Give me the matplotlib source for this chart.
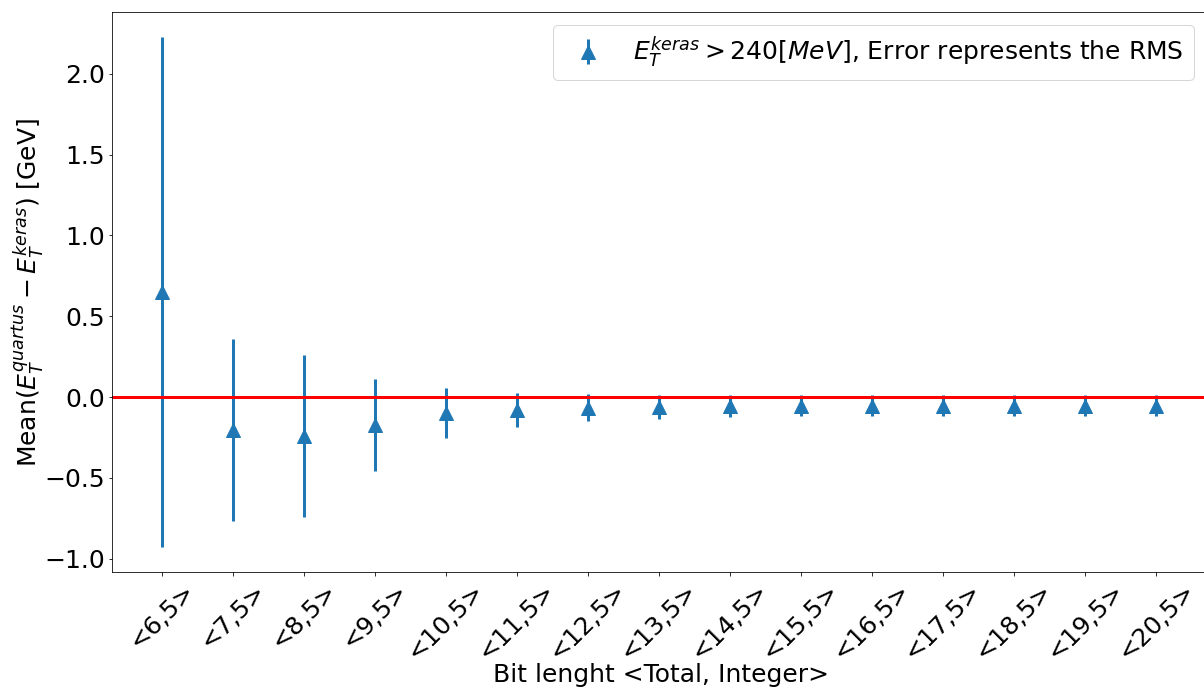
import matplotlib
matplotlib.use("Agg")
import matplotlib.pyplot as plt
import numpy as np

categories = ["<6,5>", "<7,5>", "<8,5>", "<9,5>", "<10,5>", "<11,5>", "<12,5>",
              "<13,5>", "<14,5>", "<15,5>", "<16,5>", "<17,5>", "<18,5>", "<19,5>", "<20,5>"]
means = [0.65, -0.205, -0.24, -0.175, -0.10, -0.08, -0.065, -0.06, -0.055,
         -0.055, -0.055, -0.055, -0.055, -0.055, -0.055]
rms = [1.575, 0.565, 0.50, 0.285, 0.155, 0.105, 0.085, 0.075, 0.07,
       0.065, 0.065, 0.065, 0.065, 0.065, 0.065]

fs = 25
DPI = 72
fig = plt.figure(figsize=(1204/DPI, 691/DPI), dpi=DPI)
ax = fig.add_axes([112/1204, 119/691, 1094/1204, 560/691])
x = np.arange(len(categories))
ax.errorbar(x, means, yerr=rms, fmt='^', color='#1f77b4', markersize=14,
            elinewidth=3, label=r"$E_T^{keras} > 240[MeV]$, Error represents the RMS")
ax.axhline(0, color='red', linewidth=3)
ax.set_xticks(x)
ax.set_xticklabels(categories, rotation=45, fontsize=fs)
ax.tick_params(axis='y', labelsize=fs)
ax.set_xlabel("Bit lenght <Total, Integer>", fontsize=fs)
ax.xaxis.set_label_coords((661-112)/1094, (572-675)/560)
ax.xaxis.label.set_va('center')
ax.set_ylabel(r"Mean$(E_T^{quartus} - E_T^{keras})$ [GeV]", fontsize=fs)
ax.yaxis.set_label_coords((28-112)/1094, 0.5)
ax.yaxis.label.set_va('center')
ax.legend(loc='upper right', fontsize=fs)
fig.savefig("out.png", dpi=DPI)
